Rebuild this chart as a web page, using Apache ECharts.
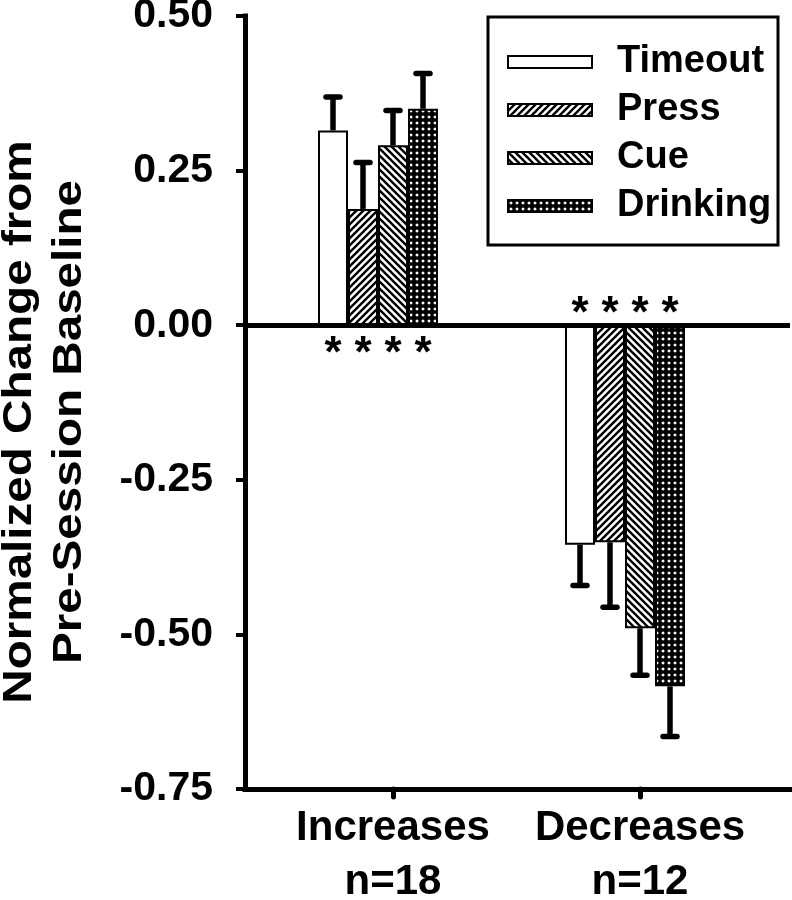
<!DOCTYPE html>
<html>
<head>
<meta charset="utf-8">
<script src="https://cdn.jsdelivr.net/npm/echarts@6/dist/echarts.min.js"></script>
<style>html,body{margin:0;padding:0;background:#fff}#c{width:792px;height:900px}</style>
</head>
<body>
<div id="c"></div>
<script>
// ---- data ----
const categories = ['Increases', 'Decreases'];
const sampleSizes = ['n=18', 'n=12'];
const seriesNames = ['Timeout', 'Press', 'Cue', 'Drinking'];
const timeoutMean = [0.315, -0.355];
const timeoutErr = [0.054, 0.066];
const pressMean = [0.188, -0.351];
const pressErr = [0.075, 0.105];
const cueMean = [0.291, -0.490];
const cueErr = [0.056, 0.076];
const drinkingMean = [0.350, -0.584];
const drinkingErr = [0.057, 0.081];
const significant = [[true, true], [true, true], [true, true], [true, true]];
const yMin = -0.75, yMax = 0.5, yStep = 0.25;
const yTitle = ['Normalized Change from', 'Pre-Session Baseline'];

const means = [timeoutMean, pressMean, cueMean, drinkingMean];
const errs = [timeoutErr, pressErr, cueErr, drinkingErr];

// ---- patterns ----
const FONT = '"Liberation Sans", Arial, Helvetica, sans-serif';
function makeTile(size, draw) {
  const c = document.createElement('canvas');
  c.width = size; c.height = size;
  const ctx = c.getContext('2d');
  ctx.fillStyle = '#fff'; ctx.fillRect(0, 0, size, size);
  draw(ctx, size);
  return { image: c, repeat: 'repeat' };
}
function hatch(dir) {
  return makeTile(7, (ctx, s) => {
    ctx.strokeStyle = '#000'; ctx.lineWidth = 2.4; ctx.lineCap = 'square';
    const segs = dir > 0
      ? [[-s, s, s, -s], [0, s, s, 0], [0, 2 * s, 2 * s, 0]]
      : [[0, 0, s, s], [-s, 0, s, 2 * s], [0, -s, 2 * s, s]];
    segs.forEach(p => { ctx.beginPath(); ctx.moveTo(p[0], p[1]); ctx.lineTo(p[2], p[3]); ctx.stroke(); });
  });
}
const patWhite = '#ffffff';
const patPress = hatch(1);
const patCue = hatch(-1);
const patDrink = makeTile(6, (ctx, s) => {
  ctx.fillStyle = '#000'; ctx.fillRect(0, 0, s, s);
  ctx.fillStyle = '#fff';
  ctx.beginPath();
  ctx.moveTo(3, 1.2); ctx.lineTo(4.8, 3); ctx.lineTo(3, 4.8); ctx.lineTo(1.2, 3); ctx.closePath();
  ctx.fill();
});
const fills = [patWhite, patPress, patCue, patDrink];

const BAR_W = 30;
const NSLOT = 5; // 4 visible bars + 1 empty slot (grouping offset as in source)

const chart = echarts.init(document.getElementById('c'), null, { renderer: 'canvas' });

const barSeries = seriesNames.map((name, s) => ({
  name: name,
  type: 'bar',
  xAxisIndex: 1, yAxisIndex: 1,
  barWidth: BAR_W,
  barGap: '0%',
  itemStyle: { color: fills[s], borderColor: '#000', borderWidth: 2 },
  z: 3,
  data: means[s].map((v, i) => ({
    value: v,
    label: {
      show: significant[s][i],
      formatter: '*',
      position: v >= 0 ? 'bottom' : 'top',
      distance: v >= 0 ? 20 : 0,
      fontSize: 44, fontWeight: 'bold', fontFamily: FONT, color: '#000', lineHeight: 20
    }
  }))
}));

const padSeries = {
  name: '_pad', type: 'bar', xAxisIndex: 1, yAxisIndex: 1,
  barWidth: BAR_W, barGap: '0%', data: [null, null], silent: true
};

const errData = [];
seriesNames.forEach((n, s) => {
  categories.forEach((c, i) => { errData.push([i, means[s][i], errs[s][i], s]); });
});

const errSeries = {
  type: 'custom',
  xAxisIndex: 1, yAxisIndex: 1,
  clip: false, silent: true, z: 5,
  encode: { x: 0, y: 1 },
  data: errData,
  renderItem: function (params, api) {
    const i = api.value(0), m = api.value(1), e = api.value(2), s = api.value(3);
    const p0 = api.coord([i, m]);
    const sign = m >= 0 ? 1 : -1;
    const p1 = api.coord([i, m + sign * e]);
    const x = p0[0] + (s - (NSLOT - 1) / 2) * BAR_W;
    return {
      type: 'group',
      children: [
        { type: 'line', shape: { x1: x, y1: p0[1], x2: x, y2: p1[1] }, style: { stroke: '#000', lineWidth: 5.5 } },
        { type: 'line', shape: { x1: x - 7, y1: p1[1], x2: x + 7, y2: p1[1] }, style: { stroke: '#000', lineWidth: 5.5, lineCap: 'round' } }
      ]
    };
  }
};

const zeroSeries = {
  type: 'line', xAxisIndex: 0, yAxisIndex: 0, data: [], silent: true,
  markLine: {
    silent: true, symbol: ['none', 'none'], label: { show: false },
    lineStyle: { color: '#000', width: 5, type: 'solid' },
    emphasis: { disabled: true },
    data: [{ yAxis: 0 }]
  }
};

const option = {
  animation: false,
  backgroundColor: '#fff',
  grid: [
    { left: 245, right: 2, top: 16, bottom: 111, outerBoundsMode: 'none', containLabel: false },
    { left: 269.5, right: 28.5, top: 16, bottom: 111, outerBoundsMode: 'none', containLabel: false }
  ],
  xAxis: [
    { type: 'value', gridIndex: 0, min: 0, max: 1,
      axisLine: { show: true, onZero: false, lineStyle: { color: '#000', width: 5, cap: 'square' } },
      axisTick: { show: false }, axisLabel: { show: false }, splitLine: { show: false } },
    { type: 'category', gridIndex: 1, data: categories,
      axisLine: { show: false, onZero: false },
      axisTick: { show: true, alignWithLabel: true, length: 8, lineStyle: { color: '#000', width: 5, cap: 'round' } },
      axisLabel: {
        interval: 0, hideOverlap: false,
        margin: 12, color: '#000', fontSize: 42, fontWeight: 'bold', fontFamily: FONT, lineHeight: 54,
        formatter: function (v, idx) { return v + '\n' + sampleSizes[idx]; }
      },
      splitLine: { show: false } }
  ],
  yAxis: [
    { type: 'value', gridIndex: 0, min: yMin, max: yMax, interval: yStep,
      axisLine: { show: true, lineStyle: { color: '#000', width: 5, cap: 'square' } },
      axisTick: { show: true, inside: false, length: 9, lineStyle: { color: '#000', width: 4 } },
      axisLabel: { margin: 32, color: '#000', fontSize: 41, fontWeight: 'bold', fontFamily: FONT,
        formatter: v => v.toFixed(2) },
      splitLine: { show: false } },
    { type: 'value', gridIndex: 1, min: yMin, max: yMax, interval: yStep, show: false }
  ],
  legend: {
    data: seriesNames.map(n => ({ name: n, icon: 'rect' })),
    orient: 'vertical', left: 507, top: 43,
    itemWidth: 84, itemHeight: 12, itemGap: 10,
    padding: 0,
    selectedMode: false,
    textStyle: { color: '#000', fontSize: 38, fontWeight: 'bold', fontFamily: FONT, padding: [0, 0, 0, 20] }
  },
  graphic: [
    { type: 'rect', shape: { x: 488, y: 17, width: 290, height: 228 },
      style: { fill: 'none', stroke: '#000', lineWidth: 3 }, z: 10, silent: true },
    { type: 'text', x: 45, y: 422, rotation: Math.PI / 2, scaleX: 1.19, silent: true,
      style: { text: yTitle.join('\n'), font: 'bold 40px ' + FONT, fill: '#000',
        textAlign: 'center', textVerticalAlign: 'middle', lineHeight: 50 } }
  ],
  series: [zeroSeries].concat(barSeries, [padSeries, errSeries])
};
chart.setOption(option);
</script>
</body>
</html>
